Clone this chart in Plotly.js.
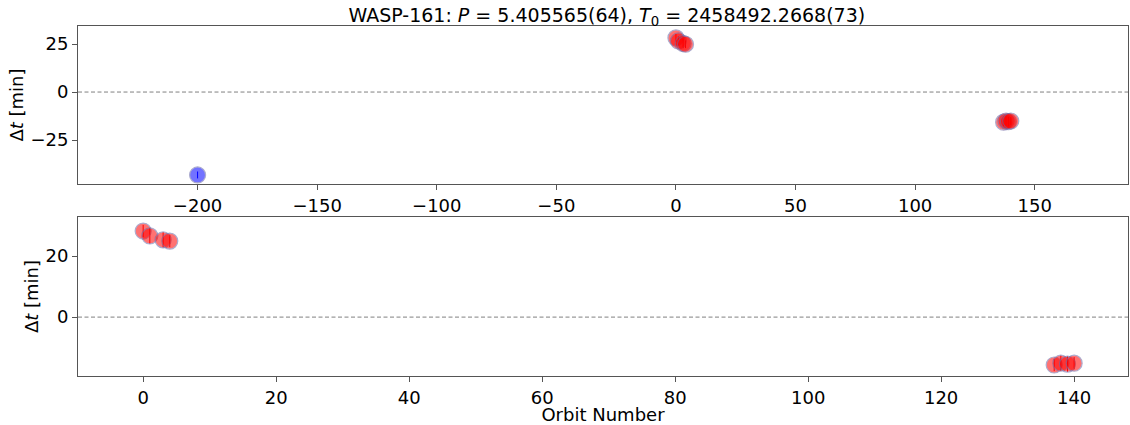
<!DOCTYPE html>
<html><head><meta charset="utf-8">
<script src="https://cdn.plot.ly/plotly-3.0.1.min.js"></script>
<style>body{margin:0;padding:0;}#c{width:1130px;height:425px;}</style>
</head><body><div id="c"></div>
<script>
const redEpochs = [0, 1, 3, 4, 137, 138, 139, 140];
const redDt = [28.2, 26.6, 25.3, 24.9, -15.7, -15.1, -15.4, -15.1];
const redErr = [2.0, 2.5, 2.5, 2.0, 2.0, 2.5, 2.5, 2.0];
const blueEpochs = [-200];
const blueDt = [-43.2];
const blueErr = [1.8];

const font = {family: 'DejaVu Sans', size: 18, color: '#000'};
function mk(xs, ys, es, color, xa, ya) {
  return {
    x: xs, y: ys, xaxis: xa, yaxis: ya, type: 'scatter', mode: 'markers',
    error_y: {type: 'data', array: es, visible: true, color: color, thickness: 1, width: 0},
    marker: {size: 16, color: color, opacity: 0.55, line: {color: '#6a6aa8', width: 1.2}},
    showlegend: false, hoverinfo: 'x+y'
  };
}
const traces = [
  mk(blueEpochs, blueDt, blueErr, 'blue', 'x', 'y'),
  mk(redEpochs, redDt, redErr, 'red', 'x', 'y'),
  mk(redEpochs, redDt, redErr, 'red', 'x2', 'y2')
];
const axBase = {showgrid: false, zeroline: false, showline: true, mirror: true, linecolor: '#555', linewidth: 1,
  ticks: 'outside', ticklen: 5, tickcolor: '#555', tickfont: font};
const layout = {
  width: 1130, height: 425,
  margin: {l: 78, r: 2, t: 26, b: 49},
  paper_bgcolor: 'white', plot_bgcolor: 'white',
  font: font,
  title: {text: 'WASP-161: <i>P</i> = 5.405565(64), <i>T</i><sub>0</sub> = 2458492.2668(73)',
    font: {family: 'DejaVu Sans', size: 19, color: '#000'}, x: 0.537, xanchor: 'center', y: 0.965, yanchor: 'middle'},
  xaxis: Object.assign({}, axBase, {domain: [0, 1], anchor: 'y', range: [-250, 189], tickvals: [-200, -150, -100, -50, 0, 50, 100, 150],
    ticktext: ['\u2212200', '\u2212150', '\u2212100', '\u221250', '0', '50', '100', '150']}),
  yaxis: Object.assign({}, axBase, {domain: [0.5486, 1], anchor: 'x', range: [-47.9, 34.4], tickvals: [-25, 0, 25],
    ticktext: ['\u221225', '0', '25'], title: {text: '\u0394<i>t</i> [min]', font: font, standoff: 2}}),
  xaxis2: Object.assign({}, axBase, {domain: [0, 1], anchor: 'y2', range: [-9.8, 148.1], tickvals: [0, 20, 40, 60, 80, 100, 120, 140],
    title: {text: 'Orbit Number', font: font, standoff: 0}}),
  yaxis2: Object.assign({}, axBase, {domain: [0, 0.4543], anchor: 'x2', range: [-19.3, 32.8], tickvals: [0, 20],
    title: {text: '\u0394<i>t</i> [min]', font: font, standoff: 2}}),
  shapes: [
    {type: 'line', xref: 'x domain', yref: 'y', x0: 0, x1: 1, y0: 0, y1: 0, line: {color: '#808080', width: 1, dash: '4px,2.5px'}, layer: 'below'},
    {type: 'line', xref: 'x2 domain', yref: 'y2', x0: 0, x1: 1, y0: 0, y1: 0, line: {color: '#808080', width: 1, dash: '4px,2.5px'}, layer: 'below'}
  ]
};
Plotly.newPlot('c', traces, layout, {displayModeBar: false, staticPlot: true});
</script></body></html>
